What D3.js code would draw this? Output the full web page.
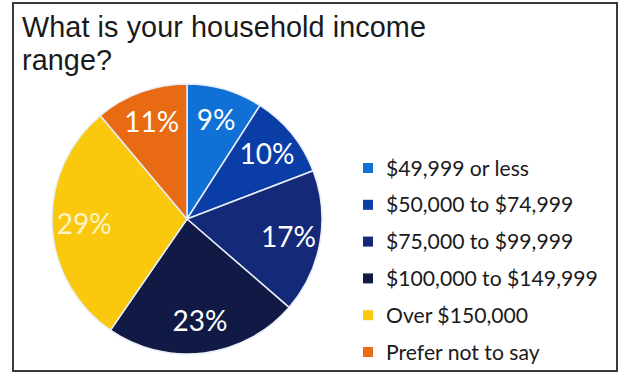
<!DOCTYPE html>
<html>
<head>
<meta charset="utf-8">
<script src="https://cdn.jsdelivr.net/npm/d3@7"></script>
<style>
  html, body { margin: 0; padding: 0; background: #ffffff; }
  svg { display: block; }
</style>
</head>
<body>
<svg id="chart" width="620" height="377"></svg>
<script>
const titleLines = ["What is your household income", "range?"];
const categories = ["$49,999 or less", "$50,000 to $74,999", "$75,000 to $99,999", "$100,000 to $149,999", "Over $150,000", "Prefer not to say"];
const values = [9, 10, 17, 23, 29, 11];
const colors = ["#1170d6", "#0a3ea6", "#142a78", "#101a44", "#fac80c", "#e86a12"];

const svg = d3.select("#chart");

// frame
svg.append("rect")
  .attr("x", 13).attr("y", 3).attr("width", 604).attr("height", 368)
  .attr("fill", "#ffffff").attr("stroke", "#3a3a3a").attr("stroke-width", 2);

// title
const title = svg.append("g").selectAll("text").data(titleLines).join("text")
  .attr("x", 22)
  .attr("y", (d, i) => 37 + i * 33)
  .attr("font-family", "'Liberation Sans', Arial, sans-serif")
  .attr("font-size", 25)
  .attr("fill", "#1a1a1a")
  .text(d => d);
// fit first title line to the reference width (~404px), with letter spacing to reach it
{
  const w = title.nodes()[0].getComputedTextLength();
  const fs = Math.min(28.8, 25 * 404 / w);
  title.attr("font-size", fs);
  const w2 = title.nodes()[0].getComputedTextLength();
  const n = titleLines[0].length;
  if (w2 < 404) title.attr("letter-spacing", Math.min(0.6, (404 - w2) / n));
}

// pie
const cx = 187, cy = 219, R = 135;
const pie = d3.pie().sort(null).value(d => d);
const arcs = pie(values);
const arc = d3.arc().innerRadius(0).outerRadius(R);
const labelArc = d3.arc().innerRadius(103).outerRadius(103);

const g = svg.append("g").attr("transform", `translate(${cx},${cy})`);
g.selectAll("path").data(arcs).join("path")
  .attr("d", arc)
  .attr("fill", (d, i) => colors[i])
  .attr("stroke", "#e8eef8")
  .attr("stroke-width", 1.5);

g.selectAll("text").data(arcs).join("text")
  .attr("transform", d => `translate(${labelArc.centroid(d)})`)
  .attr("text-anchor", "middle")
  .attr("dy", "0.36em")
  .attr("font-family", "Lato, sans-serif")
  .attr("font-size", 28)
  .attr("fill", (d, i) => i === 4 ? "#fdf3c8" : "#ffffff")
  .text(d => d.data + "%");

// legend
const leg = svg.append("g");
const rowY = d3.scalePoint().domain(categories).range([168, 352]);
const items = leg.selectAll("g").data(categories).join("g")
  .attr("transform", d => `translate(0,${rowY(d)})`);
items.append("rect")
  .attr("x", 363).attr("y", -5).attr("width", 10).attr("height", 10)
  .attr("fill", (d, i) => colors[i]);
const legText = items.append("text")
  .attr("x", 386).attr("dy", "0.36em")
  .attr("font-family", "Lato, sans-serif")
  .attr("font-size", 18)
  .attr("fill", "#1a1a1a")
  .text(d => d);
// fit the widest legend entry to the reference width (~212px)
{
  const w = legText.nodes()[3].getComputedTextLength();
  legText.attr("font-size", 18 * 212 / w);
}
</script>
</body>
</html>
